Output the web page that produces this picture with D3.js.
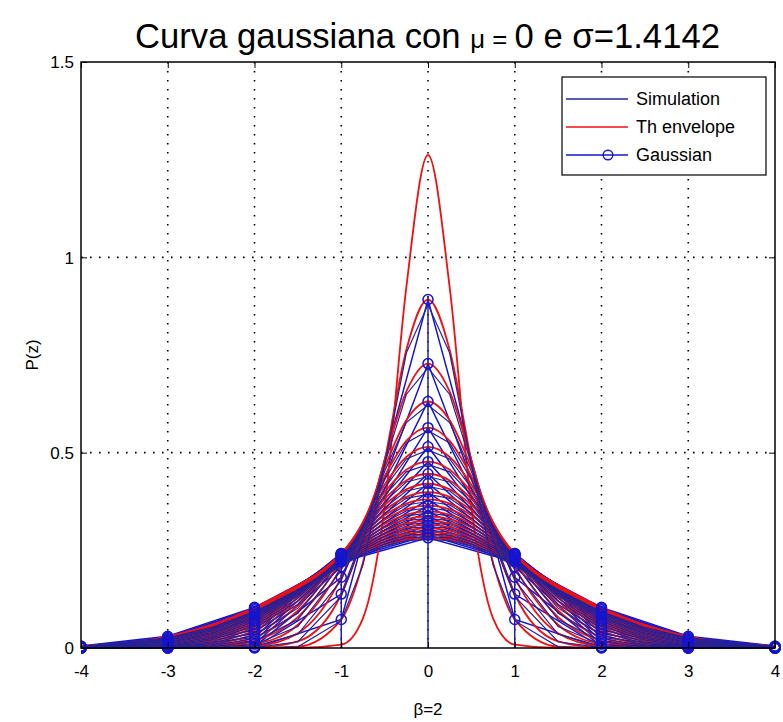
<!DOCTYPE html>
<html><head><meta charset="utf-8">
<script src="https://cdn.jsdelivr.net/npm/d3@7"></script>
<style>
body{margin:0;background:#fff}
svg{display:block}
text{font-family:"Liberation Sans",Arial,Helvetica,sans-serif;fill:#000}
</style>
</head><body>
<svg id="chart" width="783" height="722"></svg>
<script>
// ---------- data (curves are symmetric about 0) ----------
const xGrid = [0, 0.25, 0.5, 0.75, 1, 1.5, 2, 2.5, 3, 4];

// "Th envelope" red curves, one row per curve, values at xGrid
const envelopeY = [
  [1.262, 0.923, 0.361, 0.076, 0.0085, 0, 0, 0, 0, 0],
  [0.892, 0.763, 0.478, 0.219, 0.0732, 0.0032, 0, 0, 0, 0],
  [0.728, 0.656, 0.480, 0.285, 0.1376, 0.0171, 0.0009, 0, 0, 0],
  [0.631, 0.583, 0.4615, 0.3123, 0.1807, 0.0379, 0.0043, 0.0003, 0, 0],
  [0.564, 0.530, 0.4394, 0.3215, 0.2076, 0.0595, 0.0103, 0.0011, 0.0001, 0],
  [0.515, 0.489, 0.418, 0.3223, 0.2238, 0.0790, 0.0184, 0.0028, 0.0003, 0],
  [0.477, 0.456, 0.3988, 0.319, 0.2334, 0.0956, 0.0274, 0.0055, 0.0008, 0],
  [0.446, 0.429, 0.3815, 0.3138, 0.2387, 0.1093, 0.0366, 0.009, 0.0016, 0],
  [0.4205, 0.406, 0.366, 0.3076, 0.2413, 0.1205, 0.0456, 0.0131, 0.0028, 0.0001],
  [0.399, 0.3867, 0.3521, 0.3011, 0.2420, 0.1295, 0.0540, 0.0175, 0.0044, 0.0001],
  [0.3804, 0.3698, 0.3395, 0.2946, 0.2415, 0.1368, 0.0617, 0.0222, 0.0064, 0.0003],
  [0.3642, 0.3548, 0.3282, 0.2881, 0.2401, 0.1426, 0.0688, 0.0269, 0.0086, 0.0005],
  [0.3499, 0.3416, 0.3178, 0.2818, 0.2382, 0.1473, 0.0751, 0.0316, 0.011, 0.0007],
  [0.3372, 0.3297, 0.3084, 0.2758, 0.2359, 0.1510, 0.0808, 0.0362, 0.0136, 0.0011],
  [0.3257, 0.3190, 0.2996, 0.2700, 0.2334, 0.1539, 0.0859, 0.0406, 0.0162, 0.0016],
  [0.3154, 0.3093, 0.2917, 0.2646, 0.2307, 0.1562, 0.0904, 0.0448, 0.0189, 0.0021],
  [0.3060, 0.3004, 0.2843, 0.2593, 0.2280, 0.1579, 0.0944, 0.0487, 0.0217, 0.0028],
  [0.2974, 0.2923, 0.2774, 0.2544, 0.2253, 0.1592, 0.0979, 0.0524, 0.0244, 0.0035],
  [0.2894, 0.2847, 0.2710, 0.2496, 0.2224, 0.1601, 0.1010, 0.0559, 0.0271, 0.0043],
  [0.2821, 0.2777, 0.2650, 0.2451, 0.2197, 0.1607, 0.1038, 0.0591, 0.0297, 0.0052]
];

// "Simulation" blue curves, values at xGrid
const simulationY = [
  [0.879, 0.755, 0.468, 0.212, 0.070, 0.003, 0, 0, 0, 0],
  [0.717, 0.649, 0.470, 0.276, 0.132, 0.016, 0.001, 0, 0, 0],
  [0.622, 0.577, 0.452, 0.303, 0.173, 0.035, 0.004, 0, 0, 0],
  [0.556, 0.525, 0.431, 0.312, 0.199, 0.055, 0.009, 0.001, 0, 0],
  [0.507, 0.484, 0.410, 0.313, 0.215, 0.073, 0.017, 0.002, 0, 0],
  [0.470, 0.451, 0.391, 0.309, 0.224, 0.089, 0.025, 0.005, 0.001, 0],
  [0.439, 0.425, 0.374, 0.304, 0.229, 0.102, 0.033, 0.008, 0.001, 0],
  [0.414, 0.402, 0.359, 0.298, 0.232, 0.112, 0.041, 0.011, 0.002, 0],
  [0.393, 0.383, 0.345, 0.292, 0.232, 0.120, 0.049, 0.015, 0.004, 0],
  [0.375, 0.366, 0.333, 0.286, 0.232, 0.127, 0.056, 0.020, 0.005, 0],
  [0.359, 0.351, 0.322, 0.279, 0.230, 0.133, 0.062, 0.024, 0.007, 0],
  [0.345, 0.338, 0.311, 0.273, 0.229, 0.137, 0.068, 0.028, 0.009, 0.001],
  [0.332, 0.326, 0.302, 0.268, 0.226, 0.140, 0.073, 0.032, 0.012, 0.001],
  [0.321, 0.316, 0.294, 0.262, 0.224, 0.143, 0.077, 0.036, 0.014, 0.001],
  [0.311, 0.306, 0.286, 0.257, 0.221, 0.145, 0.081, 0.039, 0.016, 0.002],
  [0.301, 0.297, 0.279, 0.252, 0.219, 0.147, 0.085, 0.043, 0.019, 0.002],
  [0.293, 0.289, 0.272, 0.247, 0.216, 0.148, 0.088, 0.046, 0.021, 0.003],
  [0.285, 0.282, 0.266, 0.242, 0.214, 0.149, 0.091, 0.049, 0.023, 0.003],
  [0.278, 0.275, 0.260, 0.238, 0.211, 0.149, 0.093, 0.052, 0.026, 0.004]
];

// "Gaussian" blue curves with circle markers, values at integer x
const gaussX = [0, 1, 2, 3, 4];
const gaussY = [
  [0.892, 0.073, 0.000, 0, 0],
  [0.728, 0.138, 0.001, 0, 0],
  [0.631, 0.181, 0.004, 0, 0],
  [0.564, 0.208, 0.010, 0, 0],
  [0.515, 0.224, 0.018, 0, 0],
  [0.477, 0.233, 0.027, 0.001, 0],
  [0.446, 0.239, 0.037, 0.002, 0],
  [0.421, 0.241, 0.046, 0.003, 0],
  [0.399, 0.242, 0.054, 0.004, 0],
  [0.380, 0.242, 0.062, 0.006, 0],
  [0.364, 0.240, 0.069, 0.009, 0],
  [0.350, 0.238, 0.075, 0.011, 0.001],
  [0.337, 0.236, 0.081, 0.014, 0.001],
  [0.326, 0.233, 0.086, 0.016, 0.002],
  [0.315, 0.231, 0.090, 0.019, 0.002],
  [0.306, 0.228, 0.094, 0.022, 0.003],
  [0.297, 0.225, 0.098, 0.024, 0.003],
  [0.289, 0.222, 0.101, 0.027, 0.004],
  [0.282, 0.220, 0.104, 0.030, 0.005]
];

// vertical simulation spikes
const spikeX = [-1, 0, 1];
const spikeTop = [0.24, 0.9, 0.23];

const xTicks = [-4, -3, -2, -1, 0, 1, 2, 3, 4];
const yTicks = [0, 0.5, 1, 1.5];
const yTickLabels = ["0", "0.5", "1", "1.5"];
const legendLabels = ["Simulation", "Th envelope", "Gaussian"];

// ---------- layout ----------
const P = {left: 81, right: 775, top: 62, bottom: 648};
const colSim = "#22229a", colEnv = "#ee1111", colGauss = "#1515d0";

const svg = d3.select("#chart");
const x = d3.scaleLinear().domain([-4, 4]).range([P.left, P.right]);
const y = d3.scaleLinear().domain([0, 1.5]).range([P.bottom, P.top]);

function mirror(xs, ys) {
  const pts = [];
  for (let i = xs.length - 1; i > 0; i--) pts.push([-xs[i], ys[i]]);
  for (let i = 0; i < xs.length; i++) pts.push([xs[i], ys[i]]);
  return pts;
}

svg.append("defs").append("clipPath").attr("id", "plotclip")
  .append("rect").attr("x", P.left).attr("y", P.top - 6)
  .attr("width", P.right - P.left + 6).attr("height", P.bottom - P.top + 12);

// grid
const grid = svg.append("g");
grid.selectAll("line.gx").data(xTicks.filter(d => d > -4 && d < 4)).join("line")
  .attr("x1", d => x(d)).attr("x2", d => x(d)).attr("y1", P.top).attr("y2", P.bottom)
  .attr("stroke", "#000").attr("stroke-width", 1.6).attr("stroke-dasharray", "1.6,7.4");
grid.selectAll("line.gy").data(yTicks.filter(d => d > 0 && d < 1.5)).join("line")
  .attr("y1", d => y(d)).attr("y2", d => y(d)).attr("x1", P.left).attr("x2", P.right)
  .attr("stroke", "#000").attr("stroke-width", 1.6).attr("stroke-dasharray", "1.6,7.4");

// data
const plot = svg.append("g").attr("clip-path", "url(#plotclip)");
const smooth = d3.line().x(d => x(d[0])).y(d => y(d[1])).curve(d3.curveMonotoneX);
const straight = d3.line().x(d => x(d[0])).y(d => y(d[1]));

// gaussian polylines
plot.append("g").selectAll("path").data(gaussY).join("path")
  .attr("d", row => straight(mirror(gaussX, row)))
  .attr("fill", "none").attr("stroke", colGauss).attr("stroke-width", 1.5);
// envelope lines
plot.append("g").selectAll("path").data(envelopeY).join("path")
  .attr("d", row => smooth(mirror(xGrid, row)))
  .attr("fill", "none").attr("stroke", colEnv).attr("stroke-width", 1.8);
// simulation lines
plot.append("g").selectAll("path").data(simulationY).join("path")
  .attr("d", row => straight(mirror(xGrid, row)))
  .attr("fill", "none").attr("stroke", colSim).attr("stroke-width", 1.2);
plot.selectAll("line.spike").data(spikeX).join("line")
  .attr("x1", d => x(d)).attr("x2", d => x(d))
  .attr("y1", y(0)).attr("y2", (d, i) => y(spikeTop[i]))
  .attr("stroke", colSim).attr("stroke-width", 1.5);
// gaussian circle markers
gaussY.forEach(row => {
  plot.append("g").selectAll("circle").data(mirror(gaussX, row)).join("circle")
    .attr("cx", d => x(d[0])).attr("cy", d => y(d[1])).attr("r", 5)
    .attr("fill", "none").attr("stroke", colGauss).attr("stroke-width", 1.5);
});

// axes
const fs = 17;
const ax = svg.append("g").attr("transform", `translate(0,${P.bottom})`)
  .call(d3.axisBottom(x).tickValues(xTicks).tickFormat(d => String(d))
    .tickSizeInner(-6).tickSizeOuter(0).tickPadding(18));
const ay = svg.append("g").attr("transform", `translate(${P.left},0)`)
  .call(d3.axisLeft(y).tickValues(yTicks).tickFormat((d, i) => yTickLabels[i])
    .tickSizeInner(-6).tickSizeOuter(0).tickPadding(7));
const at = svg.append("g").attr("transform", `translate(0,${P.top})`)
  .call(d3.axisTop(x).tickValues(xTicks).tickFormat("").tickSizeInner(-6).tickSizeOuter(0));
const ar = svg.append("g").attr("transform", `translate(${P.right},0)`)
  .call(d3.axisRight(y).tickValues(yTicks).tickFormat("").tickSizeInner(-6).tickSizeOuter(0));
[ax, ay, at, ar].forEach(g => {
  g.select(".domain").remove();
  g.selectAll(".tick line").attr("stroke", "#000").attr("stroke-width", 1);
  g.selectAll(".tick text").attr("font-size", fs).attr("font-family", "Liberation Sans, Arial, sans-serif").attr("fill", "#000");
});
ax.selectAll(".tick text").attr("dy", "0.35em").attr("y", 23);
ay.selectAll(".tick text").attr("dy", "0.35em");

// frame
svg.append("rect").attr("x", P.left).attr("y", P.top)
  .attr("width", P.right - P.left).attr("height", P.bottom - P.top)
  .attr("fill", "none").attr("stroke", "#000").attr("stroke-width", 1.5);

// title
const title = svg.append("text").attr("x", 135).attr("y", 48)
  .attr("font-size", 35).attr("textLength", 585).attr("lengthAdjust", "spacingAndGlyphs");
title.append("tspan").text("Curva gaussiana con ");
title.append("tspan").attr("font-size", 26).text("\u03bc = ");
title.append("tspan").text("0 e ");
title.append("tspan").text("\u03c3");
title.append("tspan").text("=1.4142");

// axis labels
svg.append("text").attr("x", (P.left + P.right) / 2).attr("y", 715)
  .attr("text-anchor", "middle").attr("font-size", 17).text("\u03b2=2");
svg.append("text").attr("transform", `translate(38,${(P.top + P.bottom) / 2}) rotate(-90)`)
  .attr("text-anchor", "middle").attr("font-size", 17).text("P(z)");

// legend
const lg = svg.append("g");
lg.append("rect").attr("x", 562).attr("y", 77).attr("width", 204).attr("height", 98)
  .attr("fill", "#fff").attr("stroke", "#000").attr("stroke-width", 1.2);
const legCols = [colSim, colEnv, colGauss];
const legY = [99, 127, 155];
legendLabels.forEach((lab, i) => {
  lg.append("line").attr("x1", 566).attr("x2", 628).attr("y1", legY[i]).attr("y2", legY[i])
    .attr("stroke", legCols[i]).attr("stroke-width", 1.4);
  if (i === 2) {
    lg.append("circle").attr("cx", 608).attr("cy", legY[i]).attr("r", 4.8)
      .attr("fill", "none").attr("stroke", colGauss).attr("stroke-width", 1.4);
  }
  lg.append("text").attr("x", 636).attr("y", legY[i]).attr("dy", "0.35em")
    .attr("font-size", 18).text(lab);
});
</script>
</body></html>
